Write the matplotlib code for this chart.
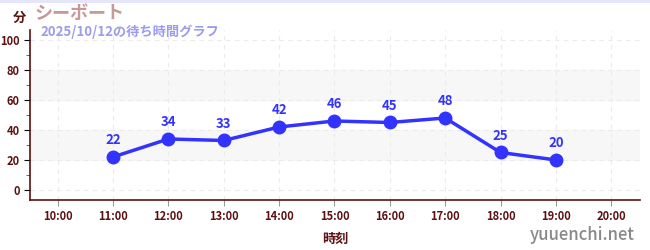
import matplotlib
matplotlib.use("Agg")
import matplotlib.pyplot as plt
from matplotlib.ticker import MultipleLocator

plt.rcParams['font.family'] = ['Noto Sans CJK JP', 'DejaVu Sans']

hours = ["10:00", "11:00", "12:00", "13:00", "14:00", "15:00",
         "16:00", "17:00", "18:00", "19:00", "20:00"]
wait_hours = ["11:00", "12:00", "13:00", "14:00", "15:00",
              "16:00", "17:00", "18:00", "19:00"]
wait_minutes = [22, 34, 33, 42, 46, 45, 48, 25, 20]

maroon = "#5c1010"
blue = "#3333ff"

fig = plt.figure(figsize=(6.5, 2.5), dpi=100)
ax = fig.add_axes([30 / 650, 50 / 250, 610 / 650, 170 / 250])

xs = [hours.index(h) for h in wait_hours]

# background bands
ax.axhspan(20, 40, color="#f7f7f7", zorder=0)
ax.axhspan(60, 80, color="#f7f7f7", zorder=0)

ax.plot(xs, wait_minutes, color=blue, lw=2.5, marker="o", ms=9, zorder=3)
for x, v in zip(xs, wait_minutes):
    ax.annotate(str(v), (x, v), xytext=(0, 7), textcoords="offset points",
                ha="center", va="bottom", color=blue, fontsize=9.5,
                fontweight="bold")

ax.set_xlim(-0.5, len(hours) - 0.48)
ax.set_ylim(-6.7, 106.7)
ax.set_xticks(range(len(hours)))
ax.set_xticklabels(hours)
ax.yaxis.set_major_locator(MultipleLocator(20))
ax.yaxis.set_minor_locator(MultipleLocator(10))

ax.grid(True, which="major", color="#ebebeb", ls=(0, (4, 4)), lw=0.8)
ax.set_axisbelow(True)

for s in ["top", "right"]:
    ax.spines[s].set_visible(False)
for s in ["left", "bottom"]:
    ax.spines[s].set_color(maroon)
    ax.spines[s].set_linewidth(1.2)

ax.tick_params(axis="both", which="major", colors=maroon, labelsize=8,
               length=4)
ax.tick_params(axis="x", which="major", color="#999999")
ax.tick_params(axis="y", which="major", color="black")
ax.tick_params(axis="y", which="minor", color="red", length=3)
for lbl in ax.get_xticklabels() + ax.get_yticklabels():
    lbl.set_fontweight("bold")

ax.set_xlabel("時刻", color=maroon, fontsize=9.5, fontweight="bold", labelpad=6)

fig.text(13 / 650, 1 - 18 / 250, "分", color=maroon, fontsize=9.5,
         fontweight="bold", va="center", ha="left")
fig.text(35 / 650, 1 - 13 / 250, "シーボート", color="#c89898", fontsize=13,
         fontweight="bold", va="center", ha="left")
fig.text(40 / 650, 1 - 32 / 250, "2025/10/12の待ち時間グラフ", color="#9b9bef",
         fontsize=9.5, fontweight="bold", va="center", ha="left")
fig.text(635 / 650, 1 - 235 / 250, "yuuenchi.net", color="#888888",
         fontsize=12, fontweight="medium", va="center", ha="right")

fig.add_artist(plt.Line2D([0, 1], [0.998, 0.998], color="#e4e4fa", lw=2,
                          transform=fig.transFigure))

fig.savefig("out.png", dpi=100)
